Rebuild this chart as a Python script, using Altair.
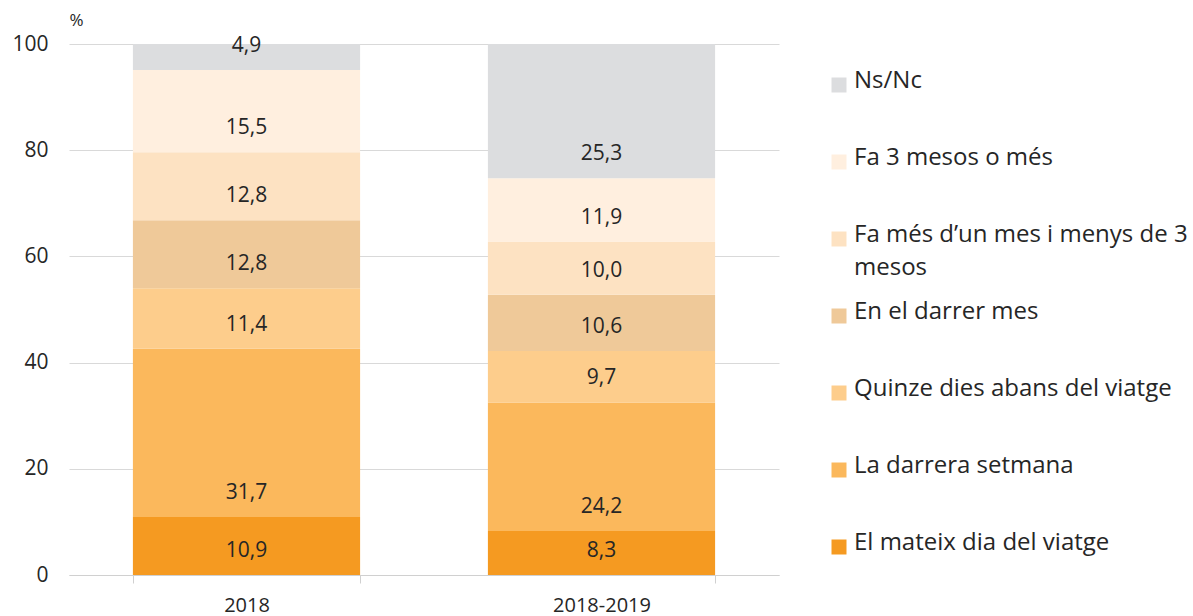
import altair as alt
import pandas as pd

years = ["2018", "2018-2019"]
# bottom to top stacking order
categories = [
    "El mateix dia del viatge",
    "La darrera setmana",
    "Quinze dies abans del viatge",
    "En el darrer mes",
    "Fa més d’un mes i menys de 3 mesos",
    "Fa 3 mesos o més",
    "Ns/Nc",
]
values_2018 = [10.9, 31.7, 11.4, 12.8, 12.8, 15.5, 4.9]
values_2018_2019 = [8.3, 24.2, 9.7, 10.6, 10.0, 11.9, 25.3]
colors = ["#F59A21", "#FBB85C", "#FDCD8C", "#EFC999", "#FDE2C2", "#FFEFDF", "#DCDDDF"]
y_ticks = [0, 20, 40, 60, 80, 100]

rows = []
for yr, vals in zip(years, [values_2018, values_2018_2019]):
    for i, (c, v) in enumerate(zip(categories, vals)):
        rows.append({"year": yr, "cat": c, "value": v, "order": i})
df = pd.DataFrame(rows)

legend_order = list(reversed(categories))
leg_df = pd.DataFrame({"cat": legend_order})

FONT = "Open Sans"
TXT = "#262626"
color_scale = alt.Scale(domain=categories, range=colors)

base = alt.Chart(df).transform_stack(
    stack="value", groupby=["year"], as_=["y0", "y1"],
    sort=[alt.SortField("order", order="ascending")],
).transform_calculate(
    label="replace(format(datum.value, '.1f'), '.', ',')"
)

x_enc = alt.X(
    "year:N", sort=years, title=None,
    scale=alt.Scale(paddingInner=0.36, paddingOuter=0.18),
    axis=alt.Axis(labelAngle=0, labelFont=FONT, labelFontSize=20, labelColor=TXT,
                  domainColor="#D0D0D0", tickColor="#D0D0D0", tickSize=8,
                  tickBand="extent", labelPadding=12, grid=False),
)

bars = base.mark_bar().encode(
    x=x_enc,
    y=alt.Y("y0:Q", scale=alt.Scale(domain=[0, 100], nice=False),
            axis=alt.Axis(values=y_ticks, title="%", titleAngle=0, titleAlign="left",
                          titleBaseline="middle",
                          titleX=0, titleY=-24, titleFont=FONT, titleFontSize=17,
                          titleFontWeight="normal", titleColor=TXT,
                          labelFont=FONT, labelFontSize=21, labelColor=TXT,
                          labelPadding=21, domain=False, ticks=False,
                          gridColor="#D9D9D9")),
    y2="y1:Q",
    color=alt.Color("cat:N", scale=color_scale, legend=None),
)

labels = base.mark_text(font=FONT, fontSize=21, color=TXT, baseline="middle", dy=-24).encode(
    x=alt.X("year:N", sort=years),
    y=alt.Y("y0:Q"),
    text="label:N",
)

main = alt.layer(bars, labels).properties(width=710, height=531)

leg_y = alt.Y("cat:N", sort=legend_order, axis=None,
              scale=alt.Scale(type="point", range=[41, 503], padding=0))

leg_sq = alt.Chart(leg_df).mark_square(size=225, opacity=1).encode(
    x=alt.value(8),
    y=leg_y,
    color=alt.Color("cat:N", scale=color_scale, legend=None),
)
leg_txt = alt.Chart(leg_df).transform_calculate(
    disp="replace(datum.cat, 'de 3 mesos', 'de 3\\nmesos')"
).mark_text(font=FONT, fontSize=24, color=TXT, align="left", baseline="top",
            dy=-16, lineBreak="\n", lineHeight=33).encode(
    x=alt.value(23),
    y=leg_y,
    text="disp:N",
)
legend = alt.layer(leg_sq, leg_txt).properties(width=350, height=531)

chart = alt.hconcat(main, legend, spacing=52).properties(
    padding={"left": 11, "top": 11, "right": 0, "bottom": 0}
).configure_view(stroke=None).configure_concat(spacing=52)

chart.save("out.html", embed_options={"renderer": "svg", "actions": False})
